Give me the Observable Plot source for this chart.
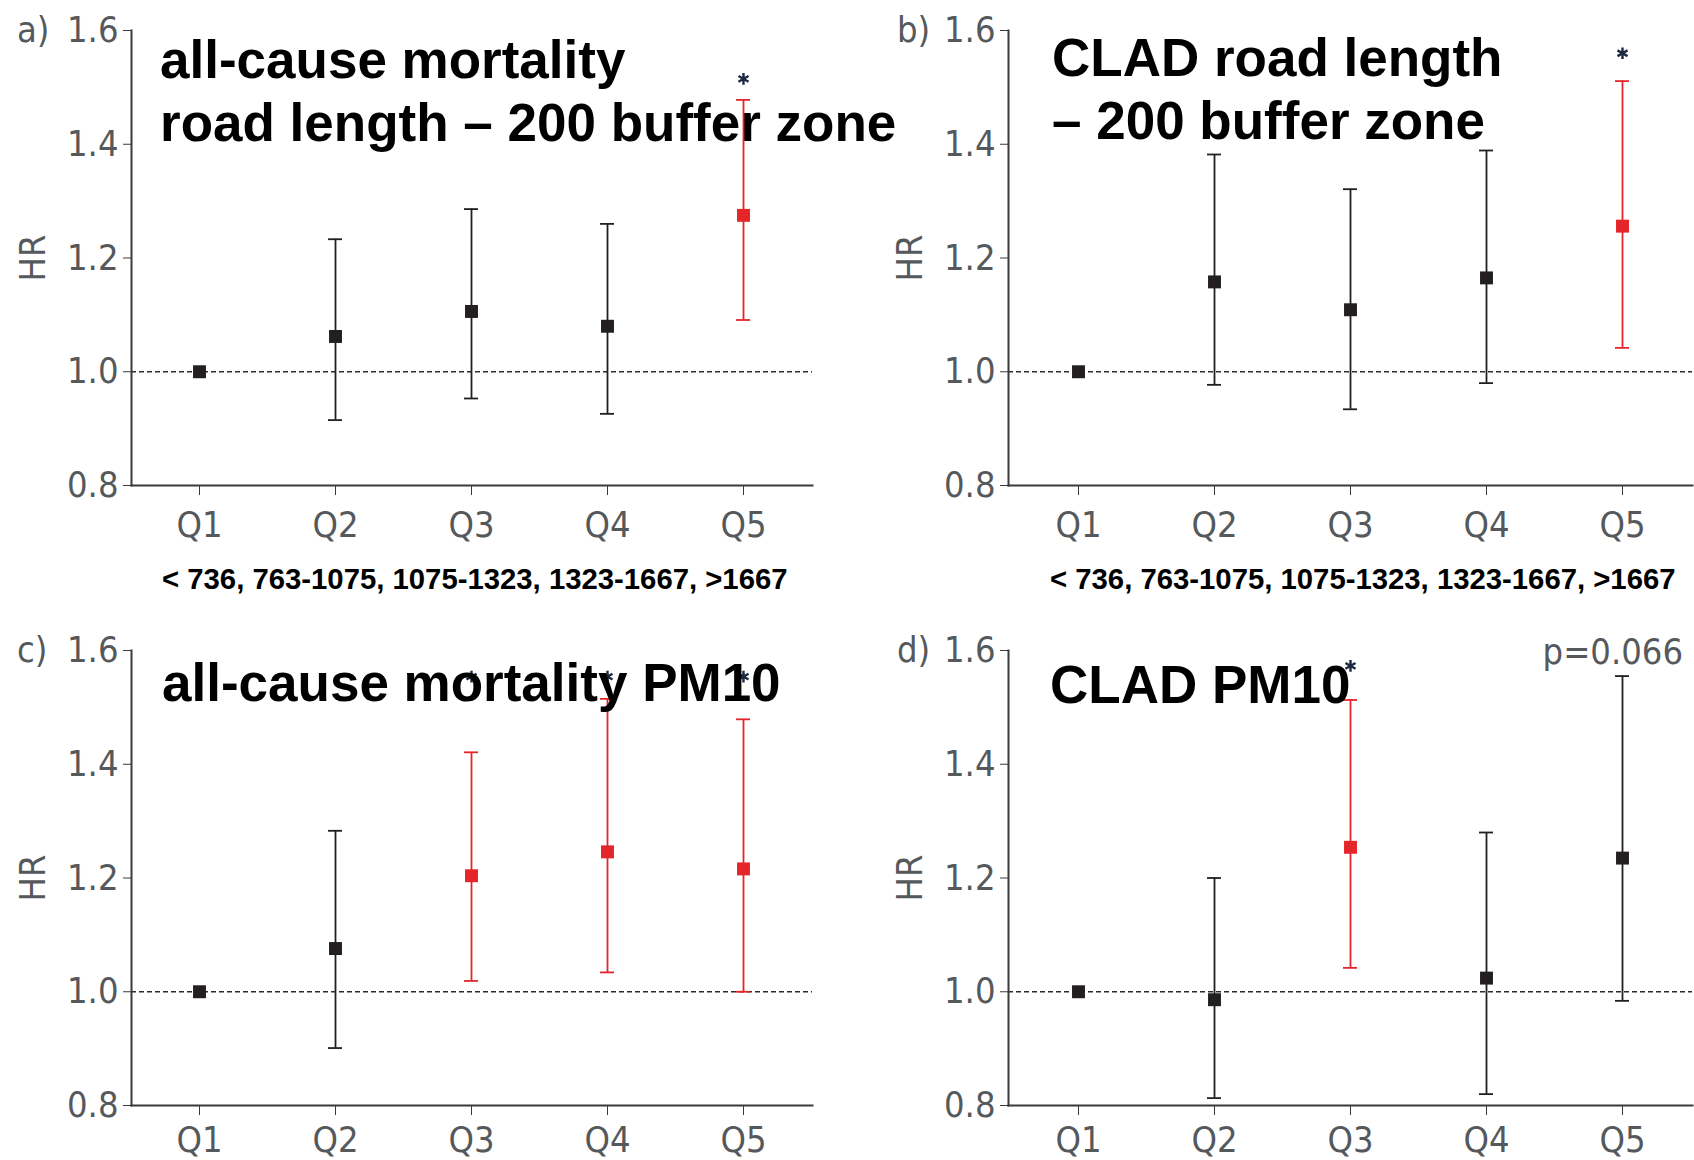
<!DOCTYPE html>
<html>
<head>
<meta charset="utf-8">
<script src="https://cdn.jsdelivr.net/npm/d3@7"></script>
<script src="https://cdn.jsdelivr.net/npm/@observablehq/plot@0.6"></script>
<style>
  html, body { margin: 0; padding: 0; background: #fff; }
  #page { position: relative; width: 1694px; height: 1160px; overflow: hidden; background: #fff; }
  .panel { position: absolute; }
  .title { position: absolute; font-family: "Liberation Sans", Arial, sans-serif; font-weight: bold;
           font-size: 53px; line-height: 63px; color: #000; white-space: nowrap; }
  .sub { position: absolute; font-family: "Liberation Sans", Arial, sans-serif; font-weight: bold;
         font-size: 29.3px; line-height: 1; color: #000; white-space: nowrap; }
  .tag { position: absolute; font-family: "DejaVu Sans Condensed", "Roboto Condensed", Roboto, sans-serif;
         font-stretch: condensed; font-size: 36px; line-height: 1; color: #56595c; white-space: nowrap; }
</style>
</head>
<body>
<div id="page"></div>
<script>
// Quintile categories shared by all four panels
const quintiles = ["Q1", "Q2", "Q3", "Q4", "Q5"];
const yTicks = [0.8, 1.0, 1.2, 1.4, 1.6];
const roadBands = "< 736, 763-1075, 1075-1323, 1323-1667, >1667";

// a) all-cause mortality vs road length (200 m buffer)
const hrRoadAll  = [1.000, 1.062, 1.106, 1.080, 1.275];
const loRoadAll  = [null, 0.915, 0.953, 0.926, 1.091];
const hiRoadAll  = [null, 1.233, 1.286, 1.260, 1.478];
const sigRoadAll = [false, false, false, false, true];
const starRoadAll = [null, null, null, null, 1.515];

// b) CLAD vs road length (200 m buffer)
const hrRoadClad  = [1.000, 1.158, 1.109, 1.165, 1.256];
const loRoadClad  = [null, 0.977, 0.934, 0.980, 1.042];
const hiRoadClad  = [null, 1.382, 1.321, 1.389, 1.511];
const sigRoadClad = [false, false, false, false, true];
const starRoadClad = [null, null, null, null, 1.560];

// c) all-cause mortality vs PM10
const hrPmAll  = [1.000, 1.076, 1.204, 1.246, 1.216];
const loPmAll  = [null, 0.901, 1.019, 1.034, 1.000];
const hiPmAll  = [null, 1.283, 1.421, 1.515, 1.479];
const sigPmAll = [false, false, true, true, true];
const starPmAll = [null, null, 1.554, 1.554, 1.554];

// d) CLAD vs PM10
const hrPmClad  = [1.000, 0.986, 1.254, 1.024, 1.235];
const loPmClad  = [null, 0.813, 1.042, 0.820, 0.984];
const hiPmClad  = [null, 1.200, 1.513, 1.280, 1.555];
const sigPmClad = [false, false, true, false, false];
const starPmClad = [null, null, 1.573, null, null];

const RED = "#e4262b";
const BLACK = "#231f20";
const tickFont = '"DejaVu Sans Condensed", "Roboto Condensed", Roboto, sans-serif';

function rows(hr, lo, hi, sig, star) {
  return quintiles.map((q, i) => ({q, hr: hr[i], lo: lo[i], hi: hi[i], sig: sig[i], star: star[i]}));
}

function drawPanel(data, box) {
  const ci = data.filter(d => d.lo != null);
  const stars = data.filter(d => d.star != null);
  const colour = d => d.sig ? RED : BLACK;
  const chart = Plot.plot({
    width: box.width,
    height: box.height,
    marginLeft: box.mL,
    marginRight: box.mR,
    marginTop: box.mT,
    marginBottom: box.mB,
    style: {fontFamily: tickFont, fontSize: "36px", background: "transparent", overflow: "visible", fontStretch: "condensed"},
    x: {type: "band", domain: quintiles, paddingInner: 0.897, paddingOuter: 0.4485},
    y: {domain: [0.8, 1.6]},
    marks: [
      Plot.ruleY([1.0], {stroke: "#2b2b2b", strokeWidth: 1.6, strokeDasharray: "5,3"}),
      Plot.ruleX(ci, {x: "q", y1: "lo", y2: "hi", stroke: colour, strokeWidth: 1.8}),
      Plot.tickY(ci, {x: "q", y: "lo", stroke: colour, strokeWidth: 1.8}),
      Plot.tickY(ci, {x: "q", y: "hi", stroke: colour, strokeWidth: 1.8}),
      Plot.dot(data, {x: "q", y: "hr", symbol: "square", r: 7.3, fill: colour, stroke: null}),
      Plot.dot(stars, {x: "q", y: "star", symbol: "asterisk", r: 5.5, stroke: "#1c2940", strokeWidth: 2.4}),
      Plot.axisY({ticks: yTicks, tickFormat: d3.format(".1f"), tickSize: 8, tickPadding: 5,
                  stroke: "#3a3a3a", fill: "#56595c", label: "HR", labelAnchor: "center",
                  labelOffset: 112, labelArrow: "none"}),
      Plot.axisX({tickSize: 10, tickPadding: box.xPad, stroke: "#3a3a3a", fill: "#56595c", label: null}),
      Plot.frame({anchor: "left", stroke: "#3a3a3a", strokeWidth: 2}),
      Plot.frame({anchor: "bottom", stroke: "#3a3a3a", strokeWidth: 2})
    ]
  });
  chart.classList.add("panel");
  chart.style.left = box.left + "px";
  chart.style.top = box.top + "px";
  chart.style.zIndex = box.z;
  return chart;
}

function addText(cls, html, left, top, z, extra) {
  const el = document.createElement("div");
  el.className = cls;
  el.innerHTML = html;
  el.style.left = left + "px";
  el.style.top = top + "px";
  el.style.zIndex = z;
  if (extra) Object.assign(el.style, extra);
  document.getElementById("page").appendChild(el);
}

const page = document.getElementById("page");
const topBox = {height: 580, top: 0, mT: 30, mB: 95, xPad: 16};
const botBox = {height: 540, top: 620, mT: 30, mB: 55, xPad: 11};
const leftBox = {width: 847, left: 0, mL: 131, mR: 35};
const rightBox = {width: 847, left: 847, mL: 161, mR: 2};

page.appendChild(drawPanel(rows(hrRoadAll, loRoadAll, hiRoadAll, sigRoadAll, starRoadAll), {...topBox, ...leftBox, z: 2}));
page.appendChild(drawPanel(rows(hrRoadClad, loRoadClad, hiRoadClad, sigRoadClad, starRoadClad), {...topBox, ...rightBox, z: 2}));
page.appendChild(drawPanel(rows(hrPmAll, loPmAll, hiPmAll, sigPmAll, starPmAll), {...botBox, ...leftBox, z: 1}));
page.appendChild(drawPanel(rows(hrPmClad, loPmClad, hiPmClad, sigPmClad, starPmClad), {...botBox, ...rightBox, z: 1}));

// Panel headings
addText("title", "all-cause mortality<br>road length – 200 buffer zone", 160, 28, 1);
addText("title", "CLAD road length<br>– 200 buffer zone", 1052, 26, 1);
addText("title", "all-cause mortality PM10", 162, 651, 3);
addText("title", "CLAD PM10", 1050, 653, 3);

// Quintile cut-points under the road-length panels
addText("sub", roadBands, 162, 564, 3);
addText("sub", roadBands, 1050, 564, 3);

// Panel letters and p-value
addText("tag", "a)", 17, 12, 3);
addText("tag", "b)", 897, 12, 3);
addText("tag", "c)", 17, 632, 3);
addText("tag", "d)", 897, 632, 3);
addText("tag", "p=0.066", 1483, 634, 3, {width: "200px", textAlign: "right"});
</script>
</body>
</html>
